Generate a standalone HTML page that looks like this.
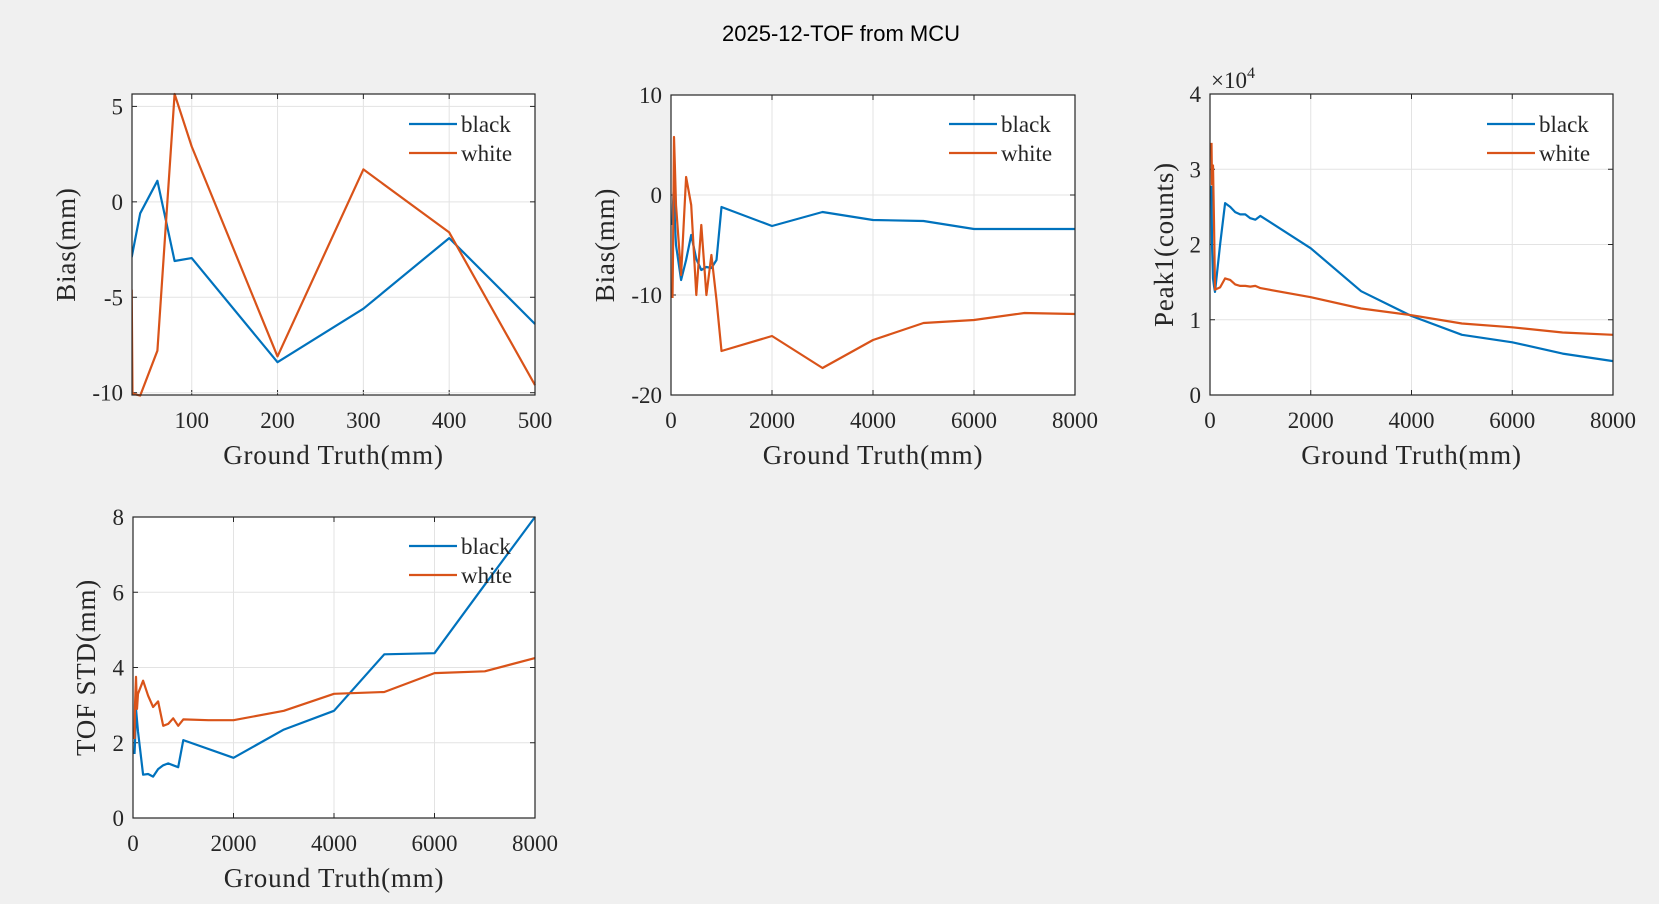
<!DOCTYPE html>
<html><head><meta charset="utf-8"><style>
html,body{margin:0;padding:0;background:#f0f0f0;}
svg{display:block;}
text{font-family:"Liberation Serif",serif;fill:#262626;}
</style></head><body>
<svg id="fig" width="1659" height="904" viewBox="0 0 1659 904" xmlns="http://www.w3.org/2000/svg">
<rect width="1659" height="904" fill="#f0f0f0"/>
<text x="841" y="41" text-anchor="middle" style="font-family:'Liberation Sans',sans-serif;font-size:22px;fill:#000">2025-12-TOF from MCU</text>
</svg>
<script>
// ---- data ----
const p1BlackX = [30,40,60,80,100,200,300,400,500];
const p1BlackY = [-2.9,-0.6,1.1,-3.1,-2.95,-8.4,-5.6,-1.9,-6.4];
const p1WhiteX = [30,31,40,60,80,100,200,300,400,500];
const p1WhiteY = [-4.6,-10.05,-10.15,-7.8,5.65,2.9,-8.1,1.7,-1.6,-9.6];

const longX = [30,40,60,80,100,200,300,400,500,600,700,800,900,1000,2000,3000,4000,5000,6000,7000,8000];
const p2BlackY = [-3,-1,1.3,-3,-5,-8.5,-6.5,-4,-6.4,-7.5,-7.2,-7.3,-6.5,-1.2,-3.1,-1.7,-2.5,-2.6,-3.4,-3.4,-3.4];
const p2WhiteY = [-10.3,-6,5.8,2.5,-1,-8,1.8,-1,-10,-3,-10,-6,-10.5,-15.6,-14.1,-17.3,-14.5,-12.8,-12.5,-11.8,-11.9];

const p3BlackY = [2.78,2.0,1.55,1.45,1.37,2.0,2.55,2.5,2.43,2.4,2.4,2.35,2.33,2.38,1.95,1.38,1.05,0.8,0.7,0.55,0.45];
const p3WhiteY = [3.35,2.8,3.05,2.3,1.4,1.43,1.55,1.53,1.47,1.45,1.45,1.44,1.45,1.42,1.3,1.15,1.06,0.95,0.9,0.83,0.8];

const p4X = [30,40,60,80,100,200,300,400,500,600,700,800,900,1000,2000,3000,4000,5000,6000,7000,8000];
const p4BlackY = [1.7,2.0,2.9,2.6,2.3,1.15,1.17,1.1,1.3,1.4,1.45,1.4,1.35,2.07,1.6,2.35,2.85,4.35,4.38,6.2,8.0];
const p4WhiteX = [30,40,60,80,100,200,300,400,500,600,700,800,900,1000,1500,2000,3000,4000,5000,6000,7000,8000];
const p4WhiteY = [2.1,3.0,3.75,2.9,3.3,3.65,3.25,2.95,3.1,2.45,2.5,2.65,2.45,2.62,2.6,2.6,2.85,3.3,3.35,3.85,3.9,4.25];

const xTicks1 = [100,200,300,400,500];
const xTicksLong = [0,2000,4000,6000,8000];
const yTicks1 = [-10,-5,0,5];
const yTicks2 = [-20,-10,0,10];
const yTicks3 = [0,1,2,3,4];
const yTicks4 = [0,2,4,6,8];

const NS = "http://www.w3.org/2000/svg";
const svg = document.getElementById('fig');
function mk(tag, attrs, parent){
  const e = document.createElementNS(NS, tag);
  for (const k in attrs) e.setAttribute(k, attrs[k]);
  (parent||svg).appendChild(e);
  return e;
}
function panel(o){
  const g = mk('g',{});
  
  
  const sx = v => o.L + (v - o.xmin)/(o.xmax - o.xmin)*(o.R - o.L);
  const sy = v => o.B - (v - o.ymin)/(o.ymax - o.ymin)*(o.B - o.T);
  mk('rect',{x:o.L,y:o.T,width:o.R-o.L,height:o.B-o.T,fill:'#fff'},g);
  o.xt.forEach(t=>{
    const x = sx(t);
    const gl = mk('line',{x1:x,x2:x,y1:o.T,y2:o.B,stroke:'#e3e3e3','stroke-width':1},g);
    
    
    mk('line',{x1:x,x2:x,y1:o.B,y2:o.B-5,stroke:'#262626'},g);
    mk('line',{x1:x,x2:x,y1:o.T,y2:o.T+5,stroke:'#262626'},g);
    const tx = mk('text',{x:x,y:o.B+33,'text-anchor':'middle','font-size':23},g);
    tx.textContent = t;
    
    
  });
  o.yt.forEach(t=>{
    const y = sy(t);
    const gl = mk('line',{x1:o.L,x2:o.R,y1:y,y2:y,stroke:'#e3e3e3','stroke-width':1},g);
    
    
    mk('line',{x1:o.L,x2:o.L+5,y1:y,y2:y,stroke:'#262626'},g);
    mk('line',{x1:o.R,x2:o.R-5,y1:y,y2:y,stroke:'#262626'},g);
    const ty = mk('text',{x:o.L-9,y:y+8,'text-anchor':'end','font-size':23},g);
    ty.textContent = t;
    
    
  });
  const clipId = 'c'+o.name;
  const cp = mk('clipPath',{id:clipId},g);
  mk('rect',{x:o.L,y:o.T-3,width:o.R-o.L+3,height:o.B-o.T+6},cp);
  o.series.forEach(s=>{
    const pts = s.x.map((xv,i)=>sx(xv).toFixed(1)+','+sy(s.y[i]).toFixed(1)).join(' ');
    const pl = mk('polyline',{points:pts,fill:'none',stroke:s.c,'stroke-width':2.2,'stroke-linejoin':'round','clip-path':'url(#'+clipId+')'},g);
    
    
  });
  mk('rect',{x:o.L,y:o.T,width:o.R-o.L,height:o.B-o.T,fill:'none',stroke:'#262626','stroke-width':1.2},g);
  const xl = mk('text',{x:(o.L+o.R)/2,y:o.B+69,'text-anchor':'middle','font-size':27,'letter-spacing':'0.8'},g);
  xl.textContent = 'Ground Truth(mm)';
  
  
  const cy = (o.T+o.B)/2;
  const yl = mk('text',{x:o.yLabX,y:cy,'text-anchor':'middle','font-size':27,'letter-spacing':'0.8',transform:'rotate(-90 '+o.yLabX+' '+cy+')'},g);
  yl.textContent = o.ylab;
  
  
  // legend
  const lg = mk('g',{},g);
  
  
  o.series.forEach((s,i)=>{
    const y = o.legY + i*29;
    mk('line',{x1:o.legX,x2:o.legX+48,y1:y,y2:y,stroke:s.c,'stroke-width':2.2},lg);
    const t = mk('text',{x:o.legX+52,y:y+8,'font-size':23},lg);
    t.textContent = s.n;
    
    
  });
}
const BLUE='#0072BD', ORANGE='#D95319';
panel({name:'bias-short-panel',L:132,R:535,T:94,B:395,xmin:30.4,xmax:500,ymin:-10.12,ymax:5.65,xt:xTicks1,yt:yTicks1,ylab:'Bias(mm)',yLabX:75,legX:409,legY:124,
  series:[{n:'black',c:BLUE,x:p1BlackX,y:p1BlackY},{n:'white',c:ORANGE,x:p1WhiteX,y:p1WhiteY}]});
panel({name:'bias-long-panel',L:671,R:1075,T:95,B:395,xmin:0,xmax:8000,ymin:-20,ymax:10,xt:xTicksLong,yt:yTicks2,ylab:'Bias(mm)',yLabX:614,legX:949,legY:124,
  series:[{n:'black',c:BLUE,x:longX,y:p2BlackY},{n:'white',c:ORANGE,x:longX,y:p2WhiteY}]});
panel({name:'peak-panel',L:1210,R:1613,T:94,B:395,xmin:0,xmax:8000,ymin:0,ymax:4,xt:xTicksLong,yt:yTicks3,ylab:'Peak1(counts)',yLabX:1173,legX:1487,legY:124,
  series:[{n:'black',c:BLUE,x:longX,y:p3BlackY},{n:'white',c:ORANGE,x:longX,y:p3WhiteY}]});
panel({name:'tof-std-panel',L:133,R:535,T:517,B:818,xmin:0,xmax:8000,ymin:0,ymax:8,xt:xTicksLong,yt:yTicks4,ylab:'TOF STD(mm)',yLabX:95,legX:409,legY:546,
  series:[{n:'black',c:BLUE,x:p4X,y:p4BlackY},{n:'white',c:ORANGE,x:p4WhiteX,y:p4WhiteY}]});
const ex = mk('text',{x:1211,y:88,'font-size':23});
ex.innerHTML = '×10<tspan dy="-10" font-size="16">4</tspan>';


</script>
</body></html>
